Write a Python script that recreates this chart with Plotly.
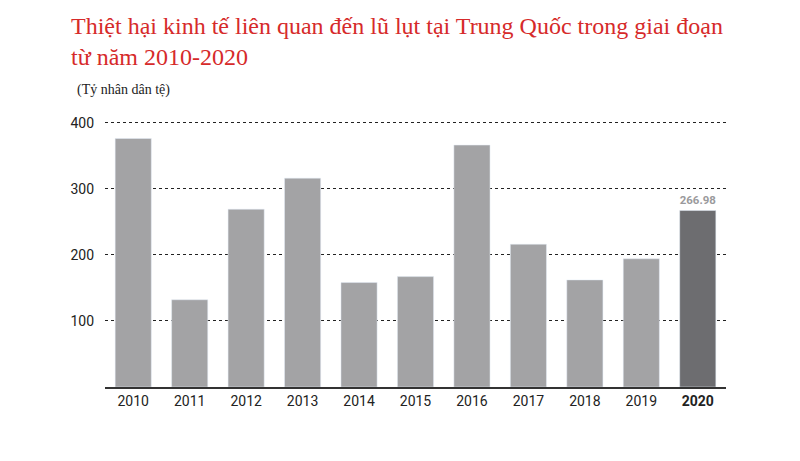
import plotly.graph_objects as go

years = ["2010", "2011", "2012", "2013", "2014", "2015", "2016", "2017", "2018", "2019", "2020"]
losses = [376, 132, 269, 316, 158, 167, 366, 216, 162, 194, 266.98]
y_ticks = [100, 200, 300, 400]

colors = ["#a3a3a5"] * (len(years) - 1) + ["#6d6d70"]
labels = [""] * (len(years) - 1) + [f"<b>{losses[-1]:.2f}</b>"]
tick_text = [y if y != "2020" else "<b>2020</b>" for y in years]

fig = go.Figure(go.Bar(
    x=years, y=losses, marker_color=colors, width=0.64,
    text=labels, textposition="outside", cliponaxis=False,
    textfont=dict(family="Roboto", size=15, color="#9a9a9c"),
))

fig.update_layout(
    width=800, height=461,
    margin=dict(l=97, r=82, t=108, b=82),
    paper_bgcolor="white", plot_bgcolor="white",
    showlegend=False,
    font=dict(family="Roboto", size=13, color="#222"),
    annotations=[
        dict(text="Thiệt hại kinh tế liên quan đến lũ lụt tại Trung Quốc trong giai đoạn<br>từ năm 2010-2020",
             xref="paper", yref="paper", x=-0.058, y=1.0, yshift=105, xanchor="left", yanchor="top",
             align="left", showarrow=False,
             font=dict(family="Liberation Serif", size=24, color="#d62a2a")),
        dict(text="(Tỷ nhân dân tệ)", xref="paper", yref="paper", x=-0.048, y=1.0, yshift=36,
             xanchor="left", yanchor="top", showarrow=False,
             font=dict(family="Liberation Serif", size=14, color="#222")),
    ],
)
fig.update_xaxes(tickvals=years, ticktext=tick_text, showline=True, linecolor="#333",
                 linewidth=1.5, ticks="", tickfont=dict(size=14))
fig.update_yaxes(range=[0, 410], tickvals=y_ticks, showgrid=True, gridcolor="#222",
                 griddash="dot", gridwidth=1, zeroline=False, ticks="", tickfont=dict(size=14),
                 ticklabelstandoff=10)

fig.write_html("out.html")
